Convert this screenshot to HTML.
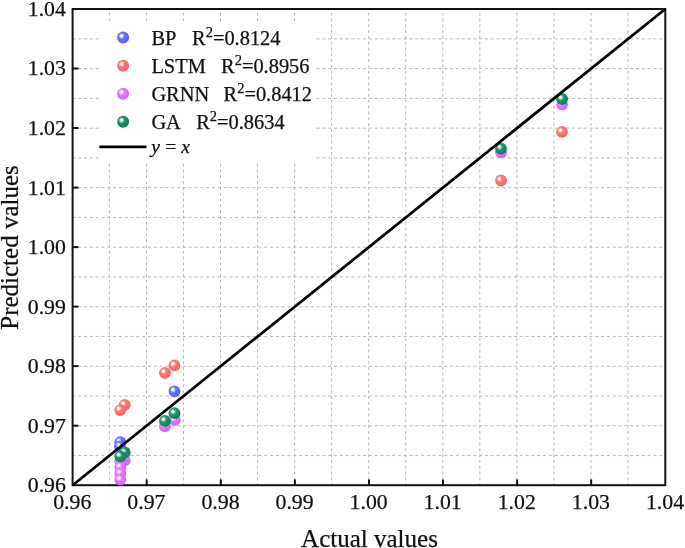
<!DOCTYPE html>
<html><head><meta charset="utf-8"><title>Predicted vs Actual</title>
<style>
html,body{margin:0;padding:0;background:#fff;}
body{width:685px;height:548px;overflow:hidden;}
svg{display:block;font-family:"Liberation Serif","Times New Roman",serif;fill:#111;}
text{stroke:#111;stroke-width:0.25px;}
.t{font-size:21.8px;}
.l{font-size:20.4px;}
.a{font-size:25px;}
.g{stroke:#b8b8b8;stroke-width:1;stroke-dasharray:3 2.81;fill:none;}
</style></head><body>
<svg width="685" height="548" viewBox="0 0 685 548">
<defs>
<radialGradient id="sb" cx="0.4" cy="0.39" r="0.68" fx="0.365" fy="0.355"><stop offset="0" stop-color="#ffffff"/><stop offset="0.1" stop-color="#ffffff" stop-opacity="0.85"/><stop offset="0.36" stop-color="#6676ff"/><stop offset="1" stop-color="#4d5efa"/></radialGradient>
<radialGradient id="sr" cx="0.4" cy="0.39" r="0.68" fx="0.365" fy="0.355"><stop offset="0" stop-color="#ffffff"/><stop offset="0.1" stop-color="#ffffff" stop-opacity="0.85"/><stop offset="0.36" stop-color="#ff7878"/><stop offset="1" stop-color="#fa5c5c"/></radialGradient>
<radialGradient id="sp" cx="0.4" cy="0.39" r="0.68" fx="0.365" fy="0.355"><stop offset="0" stop-color="#ffffff"/><stop offset="0.1" stop-color="#ffffff" stop-opacity="0.85"/><stop offset="0.36" stop-color="#e47aff"/><stop offset="1" stop-color="#d35af5"/></radialGradient>
<radialGradient id="sg" cx="0.4" cy="0.39" r="0.68" fx="0.365" fy="0.355"><stop offset="0" stop-color="#ffffff"/><stop offset="0.1" stop-color="#ffffff" stop-opacity="0.85"/><stop offset="0.36" stop-color="#1f9a6c"/><stop offset="1" stop-color="#05784e"/></radialGradient>
</defs>
<rect width="685" height="548" fill="#fff"/>
<g class="g">
<line x1="109.39" y1="485.2" x2="109.39" y2="9.0" stroke-dashoffset="1.0"/><line x1="72.6" y1="455.54" x2="665.3" y2="455.54" stroke-dashoffset="0.13"/>
<line x1="146.44" y1="485.2" x2="146.44" y2="9.0" stroke-dashoffset="1.0"/><line x1="72.6" y1="425.77" x2="665.3" y2="425.77" stroke-dashoffset="0.13"/>
<line x1="183.48" y1="485.2" x2="183.48" y2="9.0" stroke-dashoffset="1.0"/><line x1="72.6" y1="396.01" x2="665.3" y2="396.01" stroke-dashoffset="0.13"/>
<line x1="220.53" y1="485.2" x2="220.53" y2="9.0" stroke-dashoffset="1.0"/><line x1="72.6" y1="366.25" x2="665.3" y2="366.25" stroke-dashoffset="0.13"/>
<line x1="257.57" y1="485.2" x2="257.57" y2="9.0" stroke-dashoffset="1.0"/><line x1="72.6" y1="336.49" x2="665.3" y2="336.49" stroke-dashoffset="0.13"/>
<line x1="294.61" y1="485.2" x2="294.61" y2="9.0" stroke-dashoffset="1.0"/><line x1="72.6" y1="306.72" x2="665.3" y2="306.72" stroke-dashoffset="0.13"/>
<line x1="331.66" y1="485.2" x2="331.66" y2="9.0" stroke-dashoffset="1.0"/><line x1="72.6" y1="276.96" x2="665.3" y2="276.96" stroke-dashoffset="0.13"/>
<line x1="368.70" y1="485.2" x2="368.70" y2="9.0" stroke-dashoffset="1.0"/><line x1="72.6" y1="247.20" x2="665.3" y2="247.20" stroke-dashoffset="0.13"/>
<line x1="405.74" y1="485.2" x2="405.74" y2="9.0" stroke-dashoffset="1.0"/><line x1="72.6" y1="217.44" x2="665.3" y2="217.44" stroke-dashoffset="0.13"/>
<line x1="442.79" y1="485.2" x2="442.79" y2="9.0" stroke-dashoffset="1.0"/><line x1="72.6" y1="187.67" x2="665.3" y2="187.67" stroke-dashoffset="0.13"/>
<line x1="479.83" y1="485.2" x2="479.83" y2="9.0" stroke-dashoffset="1.0"/><line x1="72.6" y1="157.91" x2="665.3" y2="157.91" stroke-dashoffset="0.13"/>
<line x1="516.88" y1="485.2" x2="516.88" y2="9.0" stroke-dashoffset="1.0"/><line x1="72.6" y1="128.15" x2="665.3" y2="128.15" stroke-dashoffset="0.13"/>
<line x1="553.92" y1="485.2" x2="553.92" y2="9.0" stroke-dashoffset="1.0"/><line x1="72.6" y1="98.39" x2="665.3" y2="98.39" stroke-dashoffset="0.13"/>
<line x1="590.96" y1="485.2" x2="590.96" y2="9.0" stroke-dashoffset="1.0"/><line x1="72.6" y1="68.62" x2="665.3" y2="68.62" stroke-dashoffset="0.13"/>
<line x1="628.01" y1="485.2" x2="628.01" y2="9.0" stroke-dashoffset="1.0"/><line x1="72.6" y1="38.86" x2="665.3" y2="38.86" stroke-dashoffset="0.13"/>
</g>
<rect x="99" y="21" width="217" height="142" fill="#fff"/>
<g stroke="#111" stroke-width="2" fill="none">
<line x1="146.7" y1="485.2" x2="146.7" y2="479.4"/><line x1="72.6" y1="425.7" x2="78.4" y2="425.7"/>
<line x1="220.8" y1="485.2" x2="220.8" y2="479.4"/><line x1="72.6" y1="366.1" x2="78.4" y2="366.1"/>
<line x1="294.9" y1="485.2" x2="294.9" y2="479.4"/><line x1="72.6" y1="306.6" x2="78.4" y2="306.6"/>
<line x1="369.0" y1="485.2" x2="369.0" y2="479.4"/><line x1="72.6" y1="247.1" x2="78.4" y2="247.1"/>
<line x1="443.0" y1="485.2" x2="443.0" y2="479.4"/><line x1="72.6" y1="187.6" x2="78.4" y2="187.6"/>
<line x1="517.1" y1="485.2" x2="517.1" y2="479.4"/><line x1="72.6" y1="128.0" x2="78.4" y2="128.0"/>
<line x1="591.2" y1="485.2" x2="591.2" y2="479.4"/><line x1="72.6" y1="68.5" x2="78.4" y2="68.5"/>
<rect x="72.6" y="9.0" width="592.6999999999999" height="476.2"/>
</g>
<circle cx="562.1" cy="104.6" r="5.9" fill="url(#sp)"/>
<circle cx="501.0" cy="152.3" r="5.9" fill="url(#sp)"/>
<circle cx="164.9" cy="426.3" r="5.9" fill="url(#sp)"/>
<circle cx="174.7" cy="419.9" r="5.9" fill="url(#sp)"/>
<circle cx="124.7" cy="460.3" r="5.9" fill="url(#sp)"/>
<circle cx="120.3" cy="461.3" r="5.9" fill="url(#sp)"/>
<circle cx="120.3" cy="467.3" r="5.9" fill="url(#sp)"/>
<circle cx="120.3" cy="473.4" r="5.9" fill="url(#sp)"/>
<circle cx="120.3" cy="479.6" r="5.9" fill="url(#sp)"/>
<circle cx="174.5" cy="391.3" r="5.9" fill="url(#sb)"/>
<circle cx="120.3" cy="442.2" r="5.9" fill="url(#sb)"/>
<circle cx="119.9" cy="446.4" r="5.9" fill="url(#sb)"/>
<circle cx="562.0" cy="131.9" r="5.9" fill="url(#sr)"/>
<circle cx="501.0" cy="180.5" r="5.9" fill="url(#sr)"/>
<circle cx="164.9" cy="372.8" r="5.9" fill="url(#sr)"/>
<circle cx="174.4" cy="365.4" r="5.9" fill="url(#sr)"/>
<circle cx="124.7" cy="404.8" r="5.9" fill="url(#sr)"/>
<circle cx="120.2" cy="410.1" r="5.9" fill="url(#sr)"/>
<circle cx="562.1" cy="99.0" r="5.9" fill="url(#sg)"/>
<circle cx="501.0" cy="148.6" r="5.9" fill="url(#sg)"/>
<circle cx="164.9" cy="420.9" r="5.9" fill="url(#sg)"/>
<circle cx="174.5" cy="413.2" r="5.9" fill="url(#sg)"/>
<circle cx="124.7" cy="452.4" r="5.9" fill="url(#sg)"/>
<circle cx="120.3" cy="456.3" r="5.9" fill="url(#sg)"/>
<line x1="72.6" y1="485.2" x2="665.3" y2="9.0" stroke="#000" stroke-width="2.75"/>
<circle cx="123.1" cy="37.6" r="6.0" fill="url(#sb)"/><text class="l" x="151.4" y="44.5" word-spacing="0.4" xml:space="preserve">BP   R<tspan font-size="14.5" dy="-7.6">2</tspan><tspan dy="7.6">=0.8124</tspan></text>
<circle cx="123.1" cy="65.65" r="6.0" fill="url(#sr)"/><text class="l" x="151.4" y="72.6" word-spacing="0" xml:space="preserve">LSTM   R<tspan font-size="14.5" dy="-7.6">2</tspan><tspan dy="7.6">=0.8956</tspan></text>
<circle cx="123.1" cy="93.7" r="6.0" fill="url(#sp)"/><text class="l" x="151.4" y="100.6" word-spacing="-0.3" xml:space="preserve">GRNN   R<tspan font-size="14.5" dy="-7.6">2</tspan><tspan dy="7.6">=0.8412</tspan></text>
<circle cx="123.1" cy="121.75" r="6.0" fill="url(#sg)"/><text class="l" x="151.4" y="128.7" word-spacing="0.4" xml:space="preserve">GA   R<tspan font-size="14.5" dy="-7.6">2</tspan><tspan dy="7.6">=0.8634</tspan></text>
<line x1="99.3" y1="146.8" x2="146.5" y2="146.8" stroke="#000" stroke-width="2.7"/>
<text class="l" x="151.2" y="153" style="font-size:19.6px" word-spacing="-0.8" font-style="italic" xml:space="preserve">y = x</text>
<text class="t" x="72.3" y="509.2" text-anchor="middle">0.96</text><text class="t" x="65.9" y="492.1" text-anchor="end">0.96</text>
<text class="t" x="146.4" y="509.2" text-anchor="middle">0.97</text><text class="t" x="65.9" y="432.6" text-anchor="end">0.97</text>
<text class="t" x="220.5" y="509.2" text-anchor="middle">0.98</text><text class="t" x="65.9" y="373.0" text-anchor="end">0.98</text>
<text class="t" x="294.6" y="509.2" text-anchor="middle">0.99</text><text class="t" x="65.9" y="313.5" text-anchor="end">0.99</text>
<text class="t" x="368.7" y="509.2" text-anchor="middle">1.00</text><text class="t" x="65.9" y="254.0" text-anchor="end">1.00</text>
<text class="t" x="442.7" y="509.2" text-anchor="middle">1.01</text><text class="t" x="65.9" y="194.5" text-anchor="end">1.01</text>
<text class="t" x="516.8" y="509.2" text-anchor="middle">1.02</text><text class="t" x="65.9" y="134.9" text-anchor="end">1.02</text>
<text class="t" x="590.9" y="509.2" text-anchor="middle">1.03</text><text class="t" x="65.9" y="75.4" text-anchor="end">1.03</text>
<text class="t" x="665.0" y="509.2" text-anchor="middle">1.04</text><text class="t" x="65.9" y="15.9" text-anchor="end">1.04</text>
<text class="a" x="369.5" y="546.5" text-anchor="middle">Actual values</text>
<text class="a" transform="translate(18.4,247.5) rotate(-90)" text-anchor="middle">Predicted values</text>
</svg>
</body></html>
